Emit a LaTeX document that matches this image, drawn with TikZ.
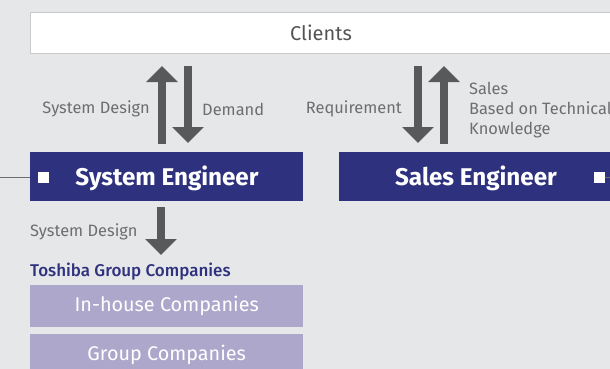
\documentclass[tikz,border=0pt]{standalone}
\usepackage{fontspec}
\setmainfont{Fira Sans}
\newfontfamily\mediumfont{Fira Sans Medium}
\usetikzlibrary{arrows.meta,calc}
\definecolor{bg}{HTML}{E6E7E8}
\definecolor{navy}{HTML}{2E317E}
\definecolor{lav}{HTML}{ADA8CB}
\definecolor{arr}{HTML}{58595B}
\definecolor{txt}{HTML}{6D6E71}
\definecolor{bord}{HTML}{C8C9CB}
\tikzset{
  bigarrow/.style={draw=arr, line width=8pt, -{Triangle[width=31pt,length=16pt]}},
  lbl/.style={text=txt, font=\fontsize{16.4}{20}\selectfont, inner sep=0pt},
  engbox/.style={fill=navy, minimum height=49pt, inner sep=0pt},
  engtxt/.style={text=white, font=\fontsize{24.2}{26}\selectfont\bfseries, inner sep=0pt},
  compbox/.style={fill=lav, text=white, font=\fontsize{19.8}{22}\selectfont, minimum height=42pt, minimum width=273pt, inner sep=0pt},
  sq/.style={fill=white, minimum size=11pt, inner sep=0pt},
}
\begin{document}
\begin{tikzpicture}[x=1pt,y=-1pt]
\fill[bg] (0,0) rectangle (610,369);
\useasboundingbox (0,0) rectangle (610,369);
% clients
\node[draw=bord, fill=white, line width=1pt, minimum width=600pt, minimum height=41pt, anchor=north west, inner sep=0pt] (cl) at (30,12) {};
\node[text=txt!75!black, font=\fontsize{20}{22}\selectfont] (clt) at (321,33) {Clients};
% engineer boxes
\node[engbox, minimum width=273pt, anchor=north west] (se) at (30,152) {};
\node[engtxt] (set) at (167,178) {System Engineer};
\node[engbox, minimum width=280pt, anchor=north west] (sa) at (339,152) {};
\node[engtxt] (sat) at (476,178) {Sales Engineer};
\node[sq] (sq1) at (43,177) {};
\node[sq] (sq2) at (599,177) {};
\coordinate (l1) at (0,177);
\coordinate (r1) at (610,177);
\draw[txt, line width=0.8pt] (l1) -- (se.west |- l1);
\draw[txt, line width=0.8pt] (sq2.east) -- (r1);
% arrows between clients and engineers
\draw[bigarrow] ($(162,0 |- se.north)+(0,-8)$) -- ($(162,0 |- cl.south)+(0,12)$);
\draw[bigarrow] ($(188,0 |- cl.south)+(0,12)$) -- ($(188,0 |- se.north)+(0,-9)$);
\draw[bigarrow] ($(418,0 |- cl.south)+(0,12)$) -- ($(418,0 |- sa.north)+(0,-9)$);
\draw[bigarrow] ($(444,0 |- sa.north)+(0,-8)$) -- ($(444,0 |- cl.south)+(0,12)$);
\node[lbl, anchor=east] (sd1) at (150,109) {System Design};
\node[lbl, anchor=west] (dm) at (202,109) {Demand};
\node[lbl, anchor=east] (rq) at (402,109) {Requirement};
\node[lbl, anchor=west, align=left] (sb) at (469,110) {Sales\\Based on Technical\\Knowledge};
% companies
\node[text=navy, font=\fontsize{17}{19}\mediumfont, anchor=west, inner sep=0pt] (tg) at (30,272) {Toshiba Group Companies};
\node[compbox, anchor=north west] (ih) at (30,285) {In-house Companies};
\node[compbox, anchor=north west] (gc) at (30,334) {Group Companies};
\node[lbl, anchor=west] (sd2) at (30,232) {System Design};
\draw[bigarrow] ($(161,0 |- se.south)+(0,6)$) -- (161,255);
\end{tikzpicture}
\end{document}
